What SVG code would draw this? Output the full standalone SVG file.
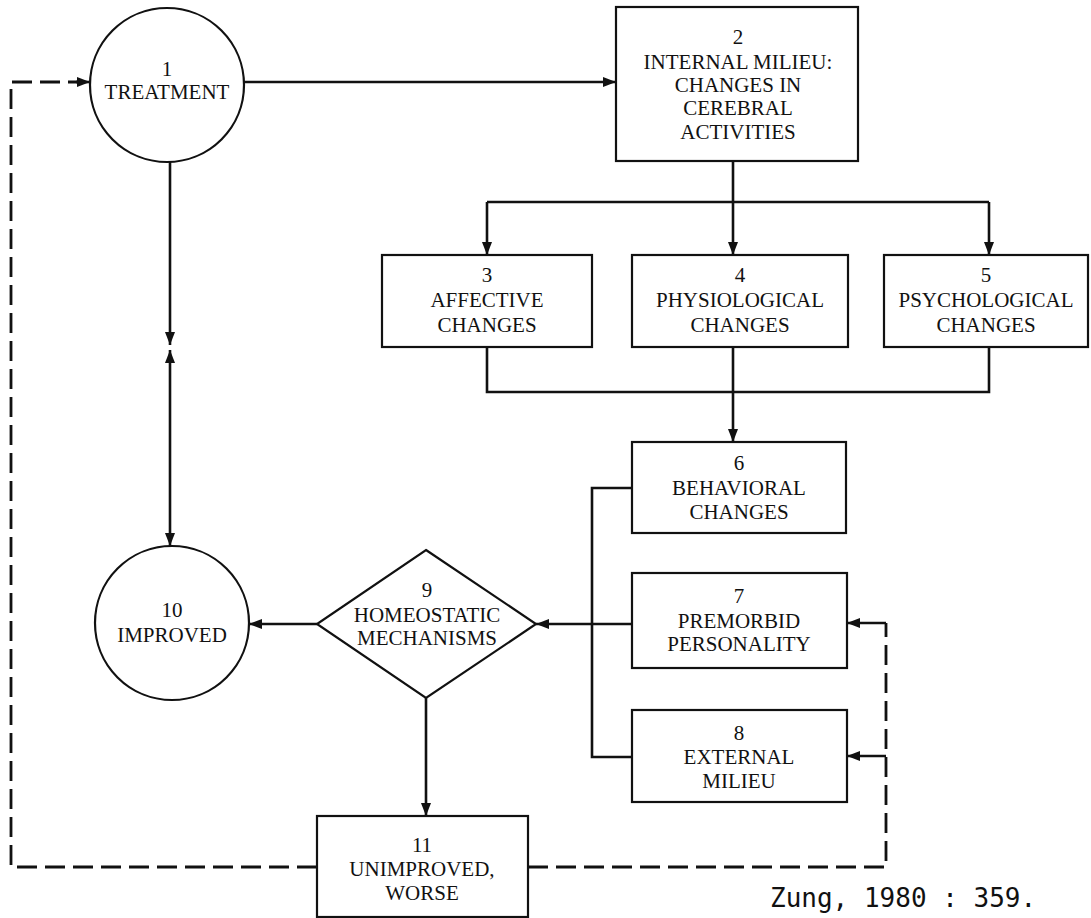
<svg xmlns="http://www.w3.org/2000/svg" width="1091" height="918" viewBox="0 0 1091 918">
<style>
.n{fill:#fff;stroke:#111;stroke-width:2.2}
.t{font-family:"Liberation Serif","Times New Roman",serif;font-size:21px;fill:#111;text-anchor:middle}
.c{fill:none;stroke:#111;stroke-width:2.6}
.d{fill:none;stroke:#111;stroke-width:2.8;stroke-dasharray:20 8}
.cap{font-family:"DejaVu Sans Mono",monospace;font-size:26px;fill:#111}
</style>
<defs>
<marker id="a" viewBox="0 0 13 10" refX="13" refY="5" markerWidth="13" markerHeight="10" markerUnits="userSpaceOnUse" orient="auto-start-reverse">
<path d="M0,0 L13,5 L0,10 z" fill="#111"/>
</marker>
</defs>
<rect width="1091" height="918" fill="#fff"/>
<g id="connectors">
<path class="c" d="M243 82 H616" marker-end="url(#a)"/>
<path class="c" d="M733 161 V202"/>
<path class="c" d="M487 202 H989"/>
<path class="c" d="M487 202 V255" marker-end="url(#a)"/>
<path class="c" d="M733 202 V255" marker-end="url(#a)"/>
<path class="c" d="M989 202 V255" marker-end="url(#a)"/>
<path class="c" d="M487 347 V392 H989 V347"/>
<path class="c" d="M733 347 V442" marker-end="url(#a)"/>
<path class="c" d="M632 488 H592 V757 H632"/>
<path class="c" d="M632 624 H536" marker-end="url(#a)"/>
<path class="c" d="M317 624 H249" marker-end="url(#a)"/>
<path class="c" d="M426 698 V816" marker-end="url(#a)"/>
<path class="c" d="M170 162 V345" marker-end="url(#a)"/>
<path class="c" d="M170 350 V546" marker-start="url(#a)" marker-end="url(#a)"/>
<path class="d" d="M317 867 H11 V82 H78"/>
<path class="c" d="M76 82 H90" marker-end="url(#a)"/>
<path class="d" d="M528 867 H886 V623"/>
<path class="c" d="M886 623 H847" marker-end="url(#a)"/>
<path class="c" d="M886 756 H847" marker-end="url(#a)"/>
</g>
<g id="node1">
<circle class="n" cx="167" cy="85" r="77"/>
<text class="t" x="167" y="76">1</text>
<text class="t" x="167" y="99">TREATMENT</text>
</g>
<g id="node2">
<rect class="n" x="616" y="7" width="242" height="154"/>
<text class="t" x="738" y="44">2</text>
<text class="t" x="738" y="69">INTERNAL MILIEU:</text>
<text class="t" x="738" y="92">CHANGES IN</text>
<text class="t" x="738" y="115">CEREBRAL</text>
<text class="t" x="738" y="139">ACTIVITIES</text>
</g>
<g id="node3">
<rect class="n" x="382" y="255" width="210" height="92"/>
<text class="t" x="487" y="282">3</text>
<text class="t" x="487" y="307">AFFECTIVE</text>
<text class="t" x="487" y="332">CHANGES</text>
</g>
<g id="node4">
<rect class="n" x="632" y="255" width="216" height="92"/>
<text class="t" x="740" y="282">4</text>
<text class="t" x="740" y="307">PHYSIOLOGICAL</text>
<text class="t" x="740" y="332">CHANGES</text>
</g>
<g id="node5">
<rect class="n" x="884" y="255" width="204" height="92"/>
<text class="t" x="986" y="282">5</text>
<text class="t" x="986" y="307">PSYCHOLOGICAL</text>
<text class="t" x="986" y="332">CHANGES</text>
</g>
<g id="node6">
<rect class="n" x="632" y="442" width="214" height="91"/>
<text class="t" x="739" y="470">6</text>
<text class="t" x="739" y="495">BEHAVIORAL</text>
<text class="t" x="739" y="519">CHANGES</text>
</g>
<g id="node7">
<rect class="n" x="632" y="573" width="215" height="95"/>
<text class="t" x="739" y="603">7</text>
<text class="t" x="739" y="628">PREMORBID</text>
<text class="t" x="739" y="651">PERSONALITY</text>
</g>
<g id="node8">
<rect class="n" x="632" y="710" width="215" height="92"/>
<text class="t" x="739" y="740">8</text>
<text class="t" x="739" y="764">EXTERNAL</text>
<text class="t" x="739" y="788">MILIEU</text>
</g>
<g id="node9">
<polygon class="n" points="426,550 536,624 426,698 317,624"/>
<text class="t" x="427" y="597">9</text>
<text class="t" x="427" y="622">HOMEOSTATIC</text>
<text class="t" x="427" y="645">MECHANISMS</text>
</g>
<g id="node10">
<circle class="n" cx="172" cy="623" r="77"/>
<text class="t" x="172" y="617">10</text>
<text class="t" x="172" y="642">IMPROVED</text>
</g>
<g id="node11">
<rect class="n" x="317" y="816" width="211" height="101"/>
<text class="t" x="422" y="852">11</text>
<text class="t" x="422" y="876">UNIMPROVED,</text>
<text class="t" x="422" y="900">WORSE</text>
</g>
<text class="cap" x="770" y="907">Zung, 1980 : 359.</text>
</svg>
